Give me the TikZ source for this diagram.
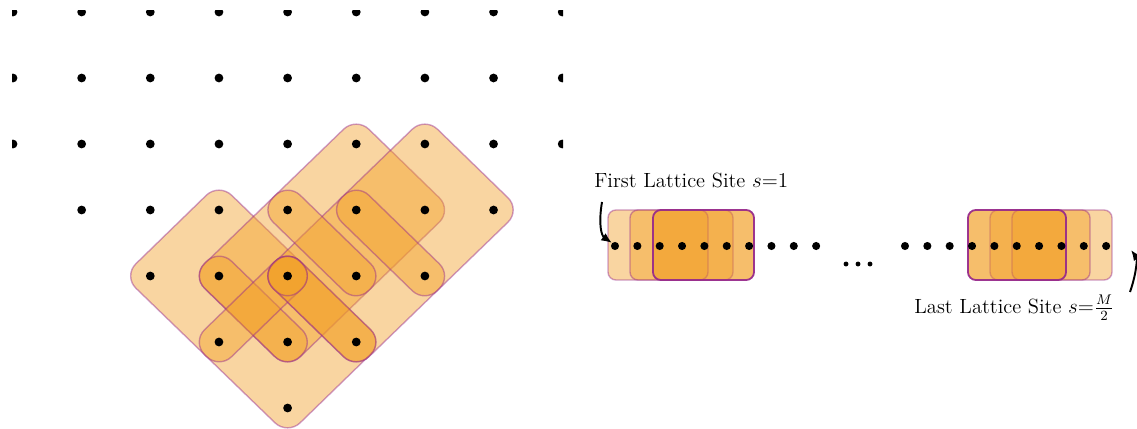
\documentclass[tikz,border=0pt]{standalone}
\usetikzlibrary{calc,arrows.meta}

\definecolor{blobfill}{RGB}{242,160,40}
\definecolor{blobedge}{RGB}{150,40,140}

\tikzset{
  px/.style={x=0.02cm,y=-0.02cm},
  latdot/.style={circle,fill=black,inner sep=0pt,minimum size=5pt},
  chaindot/.style={circle,fill=black,inner sep=0pt,minimum size=4.6pt},
  gapdot/.style={circle,fill=black,inner sep=0pt,minimum size=2.8pt},
  blob/.style={fill=blobfill,fill opacity=0.44,draw=blobedge,draw opacity=0.45,
               line width=0.8pt,rounded corners=10pt},
  block/.style={blob,rounded corners=4.5pt},
  strongblock/.style={block,draw opacity=0.9,line width=1pt},
  pointer/.style={-{Latex[length=6pt,width=5pt]},line width=1.1pt,black},
  sitelabel/.style={anchor=base west,inner sep=0pt,font=\fontsize{11.7}{14}\selectfont},
}

% margin (in px units) between a lattice site and the corner of a tilted block
\def\blobm{27}
% tilted rounded block given by its west, north, east and south sites
\newcommand\tiltblob[4]{%
  \draw[blob] ($(#1)+(-\blobm,0)$) -- ($(#2)+(0,-\blobm)$)
              -- ($(#3)+(\blobm,0)$) -- ($(#4)+(0,\blobm)$) -- cycle;}

\begin{document}
\begin{tikzpicture}[px]
\useasboundingbox (0,0) rectangle (1137,429);

% ---------- square lattice (left) ----------
\foreach \j/\from/\to in {0/0/8,1/0/8,2/0/8,3/1/7,4/2/6,5/3/5,6/4/4}
  \foreach \i in {\from,...,\to}
    \coordinate (g-\i-\j) at ({13+68.65*\i},{12+66*\j});

% large blocks
\tiltblob{g-2-4}{g-3-3}{g-5-5}{g-4-6}
\tiltblob{g-3-4}{g-5-2}{g-6-3}{g-4-5}
\tiltblob{g-4-4}{g-6-2}{g-7-3}{g-5-5}
% two-site blocks
\tiltblob{g-3-4}{g-3-4}{g-4-5}{g-4-5}
\tiltblob{g-3-5}{g-4-4}{g-4-4}{g-3-5}
\tiltblob{g-4-4}{g-4-4}{g-5-5}{g-5-5}
\tiltblob{g-4-3}{g-4-3}{g-5-4}{g-5-4}
\tiltblob{g-5-3}{g-5-3}{g-6-4}{g-6-4}
% single-site block
\tiltblob{g-4-4}{g-4-4}{g-4-4}{g-4-4}

\begin{scope}
  \clip (12,11) rectangle (563,429);
  \foreach \j/\from/\to in {0/0/8,1/0/8,2/0/8,3/1/7,4/2/6,5/3/5,6/4/4}
    \foreach \i in {\from,...,\to}
      \node[latdot] (d-\i-\j) at (g-\i-\j) {};
\end{scope}

% ---------- one-dimensional chain (right) ----------
% first end of the chain
\draw[block] (608,210) rectangle (754,280);
\draw[block] (630,210) rectangle (733,280);
\draw[block] (653,210) rectangle (708,280);
\draw[strongblock] (653,210) rectangle (754,280);
% last end of the chain
\draw[block] (968,210) rectangle (1112,280);
\draw[block] (990,210) rectangle (1090,280);
\draw[block] (1012,210) rectangle (1066,280);
\draw[strongblock] (968,210) rectangle (1066,280);

\foreach \k in {0,...,9}{
  \node[chaindot] (l-\k) at ({615+22.35*\k},246) {};
  \node[chaindot] (r-\k) at ({905+22.35*\k},246) {};
}
\node[gapdot] (gapa) at (846,264) {};
\node[gapdot] (gapb) at (858,264) {};
\node[gapdot] (gapc) at (870,264) {};

% labels and pointers
\node[sitelabel] (firstlabel) at (594,187.7) {First Lattice Site $s{=}1$};
\node[sitelabel] (lastlabel) at (914,313.3) {Last Lattice Site $s{=}\frac{M}{2}$};

\coordinate (firsttail) at (602,202);
\draw[pointer] (firsttail) .. controls (598,226) and (602,236) .. (l-0.north west);
\coordinate (lasttail) at (1130,292);
\coordinate (lasttip) at (1131,250);
\draw[pointer] (lasttail) .. controls (1137,272) and (1137,258) .. (lasttip);
\end{tikzpicture}
\end{document}
